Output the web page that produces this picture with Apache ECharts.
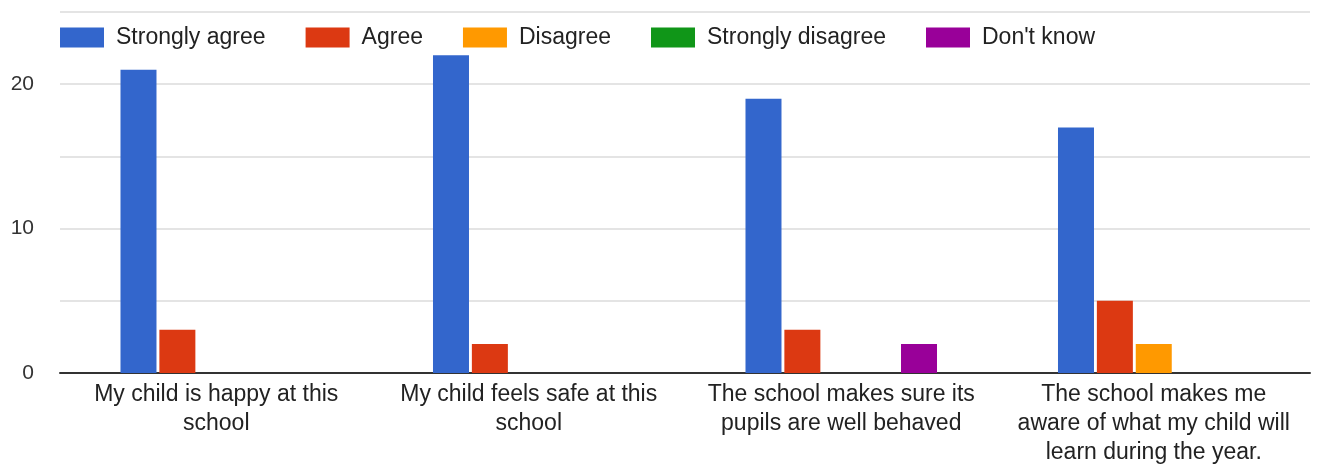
<!DOCTYPE html>
<html><head><meta charset="utf-8">
<script src="https://cdn.jsdelivr.net/npm/echarts@6/dist/echarts.min.js"></script>
<style>html,body{margin:0;padding:0;background:#fff}#c{width:1327px;height:467px}</style>
</head><body><div id="c"></div>
<script>
const categories = [
  "My child is happy at this\nschool",
  "My child feels safe at this\nschool",
  "The school makes sure its\npupils are well behaved",
  "The school makes me\naware of what my child will\nlearn during the year."
];
const seriesNames = ["Strongly agree", "Agree", "Disagree", "Strongly disagree", "Don't know"];
const stronglyAgree = [21, 22, 19, 17];
const agree = [3, 2, 3, 5];
const disagree = [0, 0, 0, 2];
const stronglyDisagree = [0, 0, 0, 0];
const dontKnow = [0, 0, 2, 0];
const colors = ["#3366cc", "#dc3912", "#ff9900", "#109618", "#990099"];
const values = [stronglyAgree, agree, disagree, stronglyDisagree, dontKnow];
const FONT = "'Liberation Sans', Arial, sans-serif";

const chart = echarts.init(document.getElementById('c'));
chart.setOption({
  animation: false,
  color: colors,
  textStyle: { fontFamily: FONT },
  legend: {
    left: 55, top: 21,
    itemWidth: 44, itemHeight: 20, itemGap: 40,
    icon: 'rect',
    textStyle: { fontSize: 23, color: '#222', fontFamily: FONT, padding: [0, 0, 0, 7] },
    data: seriesNames
  },
  grid: { left: 60, right: 17, top: 12, bottom: 90, containLabel: false },
  xAxis: {
    type: 'category',
    data: categories,
    axisLine: { lineStyle: { color: '#333', width: 2 } },
    axisTick: { show: false },
    axisLabel: { fontSize: 23, color: '#222', lineHeight: 29, margin: 7, interval: 0, fontFamily: FONT }
  },
  yAxis: {
    type: 'value', min: 0, max: 25, interval: 5,
    axisLine: { show: false }, axisTick: { show: false },
    splitLine: { lineStyle: { color: '#e4e4e4', width: 2 } },
    axisLabel: {
      fontSize: 21, color: '#333', margin: 26, fontFamily: FONT,
      formatter: v => (v % 10 === 0 ? String(v) : '')
    }
  },
  series: seriesNames.map((n, i) => ({
    name: n, type: 'bar', data: values[i],
    barWidth: 36, barGap: '8%'
  }))
});
</script></body></html>
